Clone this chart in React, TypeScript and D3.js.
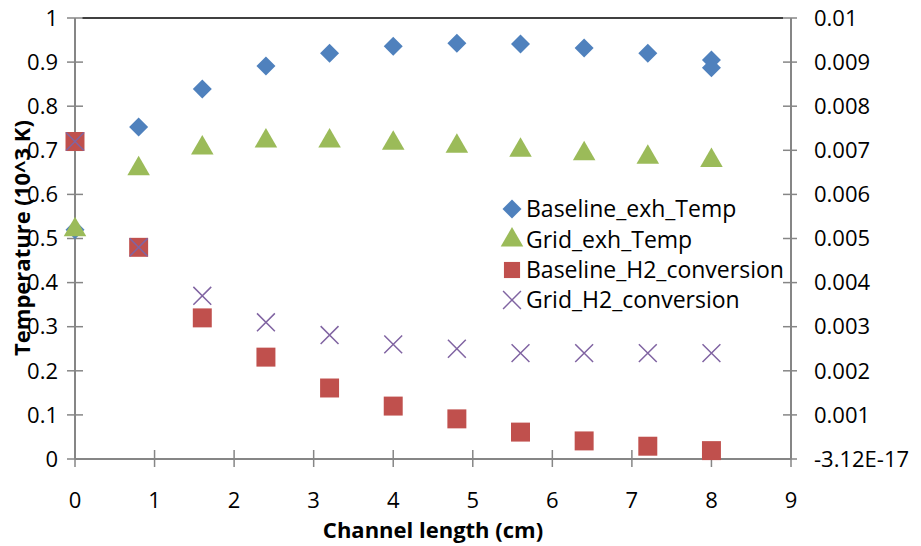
import { useRef, useEffect } from "react";
import * as d3 from "d3";

const xPositions = [0, 0.8, 1.6, 2.4, 3.2, 4.0, 4.8, 5.6, 6.4, 7.2, 8.0];
const baselineTempX = [0, 0.8, 1.6, 2.4, 3.2, 4.0, 4.8, 5.6, 6.4, 7.2, 8.0, 8.0];
const baselineTemp = [0.52, 0.753, 0.839, 0.891, 0.92, 0.936, 0.943, 0.941, 0.932, 0.92, 0.905, 0.887];
const gridTemp = [0.52, 0.658, 0.705, 0.721, 0.721, 0.716, 0.709, 0.7, 0.692, 0.684, 0.677];
const baselineH2 = [0.72, 0.48, 0.32, 0.231, 0.161, 0.12, 0.091, 0.061, 0.041, 0.029, 0.019];
const gridH2 = [0.72, 0.48, 0.37, 0.31, 0.281, 0.26, 0.25, 0.24, 0.24, 0.24, 0.24];

const xTicks = [0, 1, 2, 3, 4, 5, 6, 7, 8, 9];
const leftTicks = [0, 0.1, 0.2, 0.3, 0.4, 0.5, 0.6, 0.7, 0.8, 0.9, 1];
const rightTickLabels = ["-3.12E-17", "0.001", "0.002", "0.003", "0.004", "0.005", "0.006", "0.007", "0.008", "0.009", "0.01"];

const seriesNames = ["Baseline_exh_Temp", "Grid_exh_Temp", "Baseline_H2_conversion", "Grid_H2_conversion"];
const colors = ["#4F81BD", "#9BBB59", "#C0504D", "#8064A2"];

const FONT = "'Open Sans', 'Noto Sans', sans-serif";

export default function App() {
  const svgRef = useRef<SVGSVGElement>(null);

  useEffect(() => {
    drawChart();
  }, []);

  function drawChart() {
    if (!svgRef.current) return;
    const svg = d3.select(svgRef.current);
    svg.selectAll("*").remove();

    const x = d3.scaleLinear().domain([0, 9]).range([75, 791]);
    const y = d3.scaleLinear().domain([0, 1]).range([459, 18]);
    const axisColor = "#868686";

    // top border
    svg.append("line")
      .attr("x1", 82).attr("x2", 783)
      .attr("y1", y(1)).attr("y2", y(1))
      .attr("stroke", "#000").attr("stroke-width", 1.5);

    // axis lines
    svg.append("line").attr("x1", x(0)).attr("x2", x(0)).attr("y1", y(0)).attr("y2", y(1))
      .attr("stroke", axisColor).attr("stroke-width", 2);
    svg.append("line").attr("x1", x(9)).attr("x2", x(9)).attr("y1", y(0)).attr("y2", y(1))
      .attr("stroke", axisColor).attr("stroke-width", 2);
    svg.append("line").attr("x1", x(0)).attr("x2", x(9)).attr("y1", y(0)).attr("y2", y(0))
      .attr("stroke", axisColor).attr("stroke-width", 2);

    // left ticks
    const lt = svg.append("g");
    lt.selectAll("line").data(leftTicks).enter().append("line")
      .attr("x1", x(0) - 8).attr("x2", x(0) + 8)
      .attr("y1", (d) => y(d)).attr("y2", (d) => y(d))
      .attr("stroke", axisColor).attr("stroke-width", 1.5);
    lt.selectAll("text").data(leftTicks).enter().append("text")
      .attr("x", 58).attr("y", (d) => y(d))
      .attr("dy", "0.35em").attr("text-anchor", "end")
      .attr("font-family", FONT).attr("font-size", 22).attr("fill", "#000")
      .text((d) => (d === 0 || d === 1 ? String(d) : d.toFixed(1)));

    // right ticks
    const rt = svg.append("g");
    rt.selectAll("line").data(leftTicks).enter().append("line")
      .attr("x1", x(9) - 8).attr("x2", x(9) + 6)
      .attr("y1", (d) => y(d)).attr("y2", (d) => y(d))
      .attr("stroke", axisColor).attr("stroke-width", 1.5);
    rt.selectAll("text").data(leftTicks).enter().append("text")
      .attr("x", 814).attr("y", (d) => y(d))
      .attr("dy", "0.35em")
      .attr("font-family", FONT).attr("font-size", 22).attr("fill", "#000")
      .text((d, i) => rightTickLabels[i]);

    // x ticks
    const xt = svg.append("g");
    xt.selectAll("line").data(xTicks).enter().append("line")
      .attr("x1", (d) => x(d)).attr("x2", (d) => x(d))
      .attr("y1", y(0) - 9).attr("y2", y(0) + 8)
      .attr("stroke", axisColor).attr("stroke-width", 1.5);
    xt.selectAll("text").data(xTicks).enter().append("text")
      .attr("x", (d) => x(d)).attr("y", 500)
      .attr("dy", "0.35em").attr("text-anchor", "middle")
      .attr("font-family", FONT).attr("font-size", 22).attr("fill", "#000")
      .text((d) => String(d));

    // axis titles
    svg.append("text")
      .attr("x", 433).attr("y", 530).attr("dy", "0.35em")
      .attr("text-anchor", "middle")
      .attr("font-family", FONT).attr("font-size", 22).attr("font-weight", "bold")
      .text("Channel length (cm)");
    svg.append("text")
      .attr("transform", `translate(22, 238) rotate(-90)`)
      .attr("dy", "0.35em")
      .attr("text-anchor", "middle")
      .attr("font-family", FONT).attr("font-size", 22).attr("font-weight", "bold")
      .text("Temperature (10^3 K)");

    const diamond = d3.symbol().type(d3.symbolDiamond2).size(230);
    const triangle = d3.symbol().type(d3.symbolTriangle).size(220);
    const square = d3.symbol().type(d3.symbolSquare).size(360);
    const cross = d3.symbol().type(d3.symbolX).size(210);

    const g = svg.append("g");

    g.selectAll(".bh2").data(baselineH2).enter().append("path")
      .attr("transform", (d, i) => `translate(${x(xPositions[i])},${y(d)})`)
      .attr("d", square).attr("fill", colors[2]);

    g.selectAll(".gh2").data(gridH2).enter().append("path")
      .attr("transform", (d, i) => `translate(${x(xPositions[i])},${y(d)})`)
      .attr("d", cross).attr("fill", "none").attr("stroke", colors[3]).attr("stroke-width", 1.5);

    g.selectAll(".bt").data(baselineTemp).enter().append("path")
      .attr("transform", (d, i) => `translate(${x(baselineTempX[i])},${y(d)})`)
      .attr("d", diamond).attr("fill", colors[0]);

    g.selectAll(".gt").data(gridTemp).enter().append("path")
      .attr("transform", (d, i) => `translate(${x(xPositions[i])},${y(d)})`)
      .attr("d", triangle).attr("fill", colors[1]);

    // legend
    const legendSymbols = [diamond, triangle, square, cross];
    const legendY = [209, 240, 270, 300];
    const lg = svg.append("g");
    seriesNames.forEach((name, i) => {
      const sym = i === 2 ? d3.symbol().type(d3.symbolSquare).size(260) : legendSymbols[i];
      const p = lg.append("path")
        .attr("transform", `translate(512,${legendY[i]})`)
        .attr("d", sym);
      if (i === 3) p.attr("fill", "none").attr("stroke", colors[3]).attr("stroke-width", 1.5);
      else p.attr("fill", colors[i]);
      lg.append("text")
        .attr("x", 526).attr("y", legendY[i]).attr("dy", "0.35em")
        .attr("font-family", FONT).attr("font-size", 23).attr("fill", "#000")
        .text(name);
    });
  }

  return <svg ref={svgRef} width={921} height={546} style={{ position: "absolute", left: 0, top: 0 }} />;
}
